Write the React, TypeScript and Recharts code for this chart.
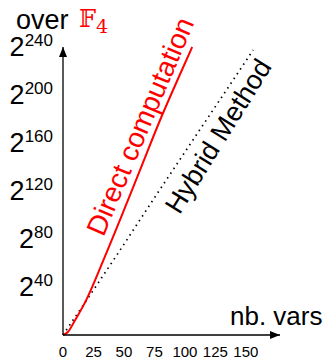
import { Line, LineChart, ReferenceDot, XAxis, YAxis } from 'recharts'

// log2 of the complexity against number of variables
const directVars = [0, 4, 10, 18, 33, 50, 63, 80, 95, 106]
const directExp = [0, 2.5, 12.5, 27, 62, 104, 137, 180, 215, 240]
const hybridVars = [0, 3, 28, 48, 78, 156]
const hybridExp = [0, 4.5, 42, 72.5, 119, 237.5]
const xTicks = [0, 25, 50, 75, 100, 125, 150]
const yTicks = [40, 80, 120, 160, 200, 240]

const direct = directVars.map((n, i) => ({ n, e: directExp[i] }))
const hybrid = hybridVars.map((n, i) => ({ n, e: hybridExp[i] }))

const FONT = '"Liberation Sans", Arial, Helvetica, sans-serif'

const YTick = ({ x, y, payload }: any) => (
  <text x={x - 2} y={y} textAnchor="end" fill="#000" fontFamily={FONT}>
    <tspan fontSize={27} dy={9}>2</tspan>
    <tspan fontSize={17} dy={-10}>{payload.value}</tspan>
  </text>
)

const XTick = ({ x, y, payload }: any) => (
  <text x={x} y={y} dy={14} textAnchor="middle" fill="#000" fontSize={15} fontFamily={FONT}>
    {payload.value}
  </text>
)

const ArrowRight = ({ cx, cy }: any) => (
  <polygon points={`${cx},${cy} ${cx - 10},${cy - 4} ${cx - 10},${cy + 4}`} fill="#000" />
)
const ArrowUp = ({ cx, cy }: any) => (
  <polygon points={`${cx},${cy} ${cx - 4},${cy + 10} ${cx + 4},${cy + 10}`} fill="#000" />
)

export default function App() {
  return (
    <div style={{ position: 'absolute', left: 0, top: 0 }}>
      <LineChart width={335} height={359} margin={{ top: 47, right: 55, left: 0, bottom: 0 }}>
        <XAxis
          type="number"
          dataKey="n"
          domain={[0, 178]}
          ticks={xTicks}
          tick={<XTick />}
          tickLine={false}
          axisLine={{ stroke: '#000', strokeWidth: 1.3 }}
          height={24}
        />
        <YAxis
          type="number"
          dataKey="e"
          domain={[0, 240]}
          ticks={yTicks}
          tick={<YTick />}
          tickLine={false}
          axisLine={{ stroke: '#000', strokeWidth: 1.3 }}
          width={63}
        />
        <Line
          data={hybrid}
          dataKey="e"
          type="linear"
          stroke="#000"
          strokeWidth={1.7}
          strokeDasharray="1.5 4.2"
          dot={false}
          isAnimationActive={false}
        />
        <Line
          data={direct}
          dataKey="e"
          type="monotone"
          stroke="#ff0000"
          strokeWidth={2}
          dot={false}
          isAnimationActive={false}
        />
        <ReferenceDot x={178} y={0} ifOverflow="visible" shape={<ArrowRight />} />
        <ReferenceDot x={0} y={240} ifOverflow="visible" shape={<ArrowUp />} />
        <text x={16} y={29} fontSize={27} fontFamily={FONT} fill="#000">over</text>
        <text x={79} y={27} fontSize={24} fontFamily='"DejaVu Serif", serif' fill="#ff0000">
          𝔽<tspan fontSize={19} dy={6}>4</tspan>
        </text>
        <text x={230} y={325} fontSize={26} fontFamily={FONT} fill="#000">nb. vars</text>
        <text
          x={149}
          y={130}
          fontSize={28}
          fontFamily={FONT}
          fill="#ff0000"
          textAnchor="middle"
          transform="rotate(-67 149 130)"
        >
          Direct computation
        </text>
        <text
          x={226}
          y={141}
          fontSize={27}
          fontFamily={FONT}
          fill="#000"
          textAnchor="middle"
          transform="rotate(-58 226 141)"
        >
          Hybrid Method
        </text>
      </LineChart>
    </div>
  )
}
